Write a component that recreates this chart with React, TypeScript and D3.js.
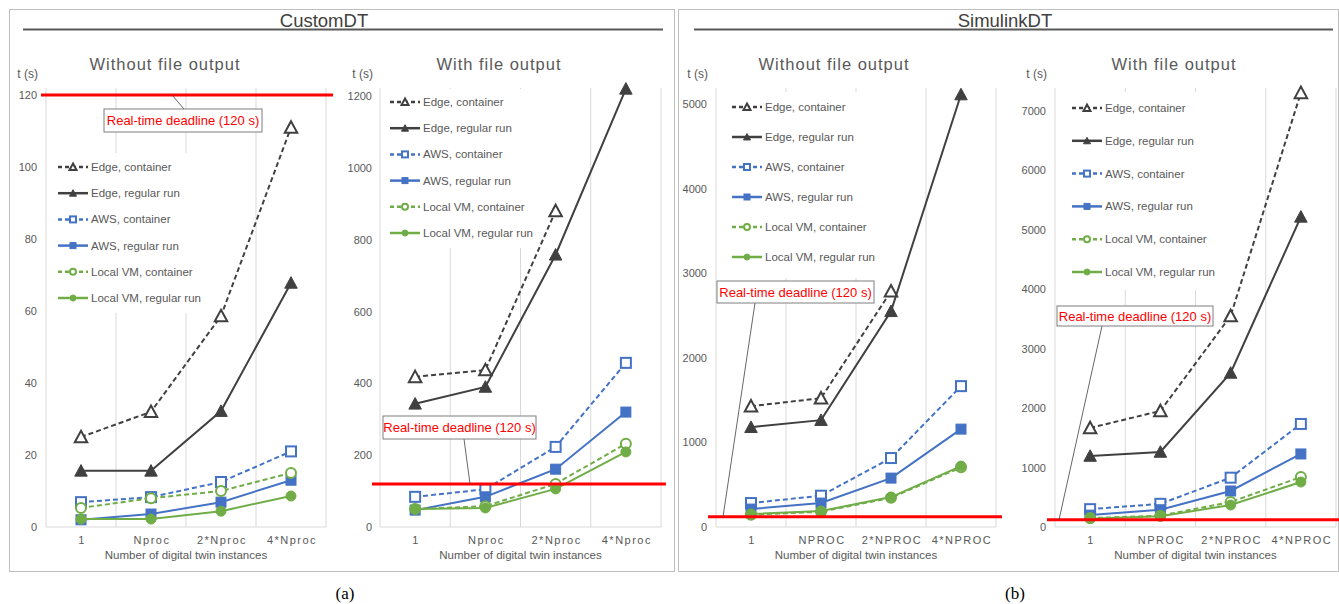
import React from "react";
import * as d3 from "d3";

// ---------- DATA ----------
const categoriesCustom = ["1", "Nproc", "2*Nproc", "4*Nproc"];
const categoriesSimulink = ["1", "NPROC", "2*NPROC", "4*NPROC"];

const seriesNames = [
  "Edge, container",
  "Edge, regular run",
  "AWS, container",
  "AWS, regular run",
  "Local VM, container",
  "Local VM, regular run",
];

// CustomDT – without file output
const customNoFileEdgeContainer = [25, 32, 58.6, 111];
const customNoFileEdgeRegular = [15.6, 15.6, 32.2, 67.8];
const customNoFileAwsContainer = [6.9, 8.3, 12.5, 21];
const customNoFileAwsRegular = [2, 3.6, 6.9, 13];
const customNoFileVmContainer = [5.3, 8, 10, 15];
const customNoFileVmRegular = [2.2, 2.2, 4.4, 8.6];

// CustomDT – with file output
const customFileEdgeContainer = [418, 437, 880, null];
const customFileEdgeRegular = [343, 390, 758, 1220];
const customFileAwsContainer = [84, 105, 223, 457];
const customFileAwsRegular = [47, 84, 161, 320];
const customFileVmContainer = [50, 58, 120, 232];
const customFileVmRegular = [50, 53, 106, 209];

// SimulinkDT – without file output
const simNoFileEdgeContainer = [1428, 1523, 2786, null];
const simNoFileEdgeRegular = [1180, 1263, 2550, 5112];
const simNoFileAwsContainer = [283, 370, 815, 1665];
const simNoFileAwsRegular = [212, 283, 578, 1157];
const simNoFileVmContainer = [145, 180, 345, 705];
const simNoFileVmRegular = [153, 189, 354, 720];

// SimulinkDT – with file output
const simFileEdgeContainer = [1667, 1953, 3552, 7306];
const simFileEdgeRegular = [1195, 1263, 2593, 5219];
const simFileAwsContainer = [300, 390, 830, 1734];
const simFileAwsRegular = [200, 290, 606, 1229];
const simFileVmContainer = [150, 190, 420, 840];
const simFileVmRegular = [140, 180, 370, 757];

const ticksCustomNoFile = [0, 20, 40, 60, 80, 100, 120];
const ticksCustomFile = [0, 200, 400, 600, 800, 1000, 1200];
const ticksSimNoFile = [0, 1000, 2000, 3000, 4000, 5000];
const ticksSimFile = [0, 1000, 2000, 3000, 4000, 5000, 6000, 7000];

const deadline = 120;

// ---------- STYLES ----------
const seriesStyle = [
  { color: "#404040", dashed: true, marker: "triangle", open: true },
  { color: "#404040", dashed: false, marker: "triangle", open: false },
  { color: "#4472C4", dashed: true, marker: "square", open: true },
  { color: "#4472C4", dashed: false, marker: "square", open: false },
  { color: "#70AD47", dashed: true, marker: "circle", open: true },
  { color: "#70AD47", dashed: false, marker: "circle", open: false },
];

const FONT = "'Liberation Sans', Arial, sans-serif";
const TEXT = "#595959";
const GRID = "#d9d9d9";
const BASE = 527;

const panels = [
  {
    title: "Without file output",
    titleX: 165,
    cats: categoriesCustom,
    series: [customNoFileEdgeContainer, customNoFileEdgeRegular, customNoFileAwsContainer, customNoFileAwsRegular, customNoFileVmContainer, customNoFileVmRegular],
    ticks: ticksCustomNoFile,
    left: 46, right: 326, yTop: 95, labelX: 37,
    legend: { x0: 47, x1: 250, y0: 153, y1: 313, row0: 167, step: 26.2, lx: 58 },
    red: { x0: 41, x1: 333 },
    box: { x0: 104, x1: 262, y0: 109, y1: 132, ax: 172, bx: 184, by: 109 },
  },
  {
    title: "With file output",
    titleX: 499,
    cats: categoriesCustom,
    series: [customFileEdgeContainer, customFileEdgeRegular, customFileAwsContainer, customFileAwsRegular, customFileVmContainer, customFileVmRegular],
    ticks: ticksCustomFile,
    left: 380, right: 661, yTop: 96, labelX: 372,
    legend: { x0: 381, x1: 586, y0: 89, y1: 248, row0: 102, step: 26.2, lx: 390 },
    red: { x0: 372, x1: 666 },
    box: { x0: 383, x1: 536, y0: 416, y1: 439, ax: 470, bx: 464, by: 439 },
  },
  {
    title: "Without file output",
    titleX: 834,
    cats: categoriesSimulink,
    series: [simNoFileEdgeContainer, simNoFileEdgeRegular, simNoFileAwsContainer, simNoFileAwsRegular, simNoFileVmContainer, simNoFileVmRegular],
    ticks: ticksSimNoFile,
    left: 716, right: 996, yTop: 104, labelX: 707,
    legend: { x0: 717, x1: 900, y0: 92, y1: 278, row0: 107, step: 30, lx: 732 },
    red: { x0: 708, x1: 1002 },
    box: { x0: 717, x1: 874, y0: 281, y1: 303, ax: 723, bx: 755, by: 303 },
  },
  {
    title: "With file output",
    titleX: 1174,
    cats: categoriesSimulink,
    series: [simFileEdgeContainer, simFileEdgeRegular, simFileAwsContainer, simFileAwsRegular, simFileVmContainer, simFileVmRegular],
    ticks: ticksSimFile,
    left: 1055, right: 1336, yTop: 111, labelX: 1046,
    legend: { x0: 1056, x1: 1240, y0: 92, y1: 290, row0: 108, step: 32.8, lx: 1072 },
    red: { x0: 1047, x1: 1339 },
    box: { x0: 1057, x1: 1213, y0: 306, y1: 326, ax: 1059, bx: 1102, by: 326 },
  },
];

function Marker({ x, y, kind, color, open, size }) {
  const fill = open ? "#ffffff" : color;
  const sw = open ? 2 : 1;
  if (kind === "triangle") {
    const h = size / 2;
    return (
      <path
        d={`M${x},${y - h}L${x + h},${y + h * 0.85}L${x - h},${y + h * 0.85}Z`}
        fill={fill}
        stroke={color}
        strokeWidth={sw}
        strokeLinejoin="miter"
      />
    );
  }
  if (kind === "square") {
    const h = size / 2 - 0.5;
    return <rect x={x - h} y={y - h} width={2 * h} height={2 * h} fill={fill} stroke={color} strokeWidth={sw} />;
  }
  return <circle cx={x} cy={y} r={size / 2 - 0.5} fill={fill} stroke={color} strokeWidth={sw} />;
}

function Panel({ p }) {
  const x = d3.scaleBand().domain(p.cats).range([p.left, p.right]).padding(0);
  const y = d3
    .scaleLinear()
    .domain([0, p.ticks[p.ticks.length - 1]])
    .range([BASE, p.yTop]);
  const cx = (c) => (x(c) as number) + x.bandwidth() / 2;
  const gridXs = [...p.cats.map((c) => x(c) as number), p.right];
  const line = d3
    .line<any>()
    .defined((d) => d.v !== null)
    .x((d) => cx(d.c))
    .y((d) => y(d.v));
  const redY = y(deadline);
  const L = p.legend;
  return (
    <g>
      {gridXs.map((gx, i) => (
        <line key={i} x1={gx} x2={gx} y1={88} y2={BASE} stroke={GRID} strokeWidth={1} />
      ))}
      <line x1={p.left} x2={p.right} y1={BASE} y2={BASE} stroke={GRID} strokeWidth={1} />
      <rect x={L.x0} y={L.y0} width={L.x1 - L.x0} height={L.y1 - L.y0} fill="#ffffff" />
      {p.ticks.map((t) => (
        <text key={t} x={p.labelX} y={y(t) + 4} textAnchor="end" fontSize={11} fill={TEXT} fontFamily={FONT}>
          {t}
        </text>
      ))}
      <text x={p.labelX + 1} y={78} textAnchor="end" fontSize={12} fill={TEXT} fontFamily={FONT}>
        t (s)
      </text>
      <text x={p.titleX} y={70} textAnchor="middle" fontSize={16.5} letterSpacing={1} fill={TEXT} fontFamily={FONT}>
        {p.title}
      </text>
      {p.cats.map((c) => (
        <text key={c} x={cx(c) + 1} y={544} textAnchor="middle" fontSize={11} letterSpacing={1.5} fill={TEXT} fontFamily={FONT}>
          {c}
        </text>
      ))}
      <text x={(p.left + p.right) / 2} y={559} textAnchor="middle" fontSize={11.5} fill={TEXT} fontFamily={FONT}>
        Number of digital twin instances
      </text>
      {seriesNames.map((name, i) => {
        const st = seriesStyle[i];
        const ry = L.row0 + i * L.step;
        return (
          <g key={name}>
            <line
              x1={L.lx}
              x2={L.lx + 30}
              y1={ry}
              y2={ry}
              stroke={st.color}
              strokeWidth={2.5}
              strokeDasharray={st.dashed ? "4,3" : undefined}
            />
            <Marker x={L.lx + 15} y={ry} kind={st.marker} color={st.color} open={st.open} size={7} />
            <text x={L.lx + 33} y={ry + 4} fontSize={11.5} fill={TEXT} fontFamily={FONT}>
              {name}
            </text>
          </g>
        );
      })}
      {p.series.map((vals, i) => {
        const st = seriesStyle[i];
        const pts = vals.map((v, j) => ({ c: p.cats[j], v }));
        return (
          <g key={i}>
            <path
              d={line(pts) || ""}
              fill="none"
              stroke={st.color}
              strokeWidth={2}
              strokeDasharray={st.dashed ? "5,3" : undefined}
            />
            {pts
              .filter((d) => d.v !== null)
              .map((d, j) => (
                <Marker key={j} x={cx(d.c)} y={y(d.v)} kind={st.marker} color={st.color} open={st.open} size={st.marker === "triangle" ? 12.5 : 11} />
              ))}
          </g>
        );
      })}
      <line x1={p.red.x0} x2={p.red.x1} y1={redY} y2={redY} stroke="#ff0000" strokeWidth={3} />
      <line x1={p.box.ax} y1={redY} x2={p.box.bx} y2={p.box.by} stroke="#404040" strokeWidth={0.8} />
      <rect
        x={p.box.x0}
        y={p.box.y0}
        width={p.box.x1 - p.box.x0}
        height={p.box.y1 - p.box.y0}
        fill="#ffffff"
        stroke="#7f7f7f"
        strokeWidth={1}
      />
      <text
        x={(p.box.x0 + p.box.x1) / 2}
        y={(p.box.y0 + p.box.y1) / 2 + 4.5}
        textAnchor="middle"
        fontSize={13}
        fill="#ff0000"
        fontFamily={FONT}
      >
        Real-time deadline (120 s)
      </text>
    </g>
  );
}

export default function App() {
  return (
    <svg
      width={1339}
      height={604}
      style={{ position: "absolute", left: 0, top: 0, background: "#ffffff" }}
    >
      <rect x={0} y={0} width={1339} height={604} fill="#ffffff" />
      <rect x={9.5} y={9.5} width={665} height={562} fill="none" stroke="#bfbfbf" strokeWidth={1} />
      <rect x={678.5} y={9.5} width={660} height={562} fill="none" stroke="#bfbfbf" strokeWidth={1} />
      <text x={324} y={27} textAnchor="middle" fontSize={18.5} fill="#404040" fontFamily={FONT}>
        CustomDT
      </text>
      <line x1={23} x2={663} y1={29.5} y2={29.5} stroke="#595959" strokeWidth={2} />
      <text x={1005} y={27} textAnchor="middle" fontSize={18.5} fill="#404040" fontFamily={FONT}>
        SimulinkDT
      </text>
      <line x1={694} x2={1333} y1={29.5} y2={29.5} stroke="#595959" strokeWidth={2} />
      {panels.map((p, i) => (
        <Panel key={i} p={p} />
      ))}
      <text x={345} y={599} textAnchor="middle" fontSize={17} fill="#000" fontFamily="'Liberation Serif', serif">
        (a)
      </text>
      <text x={1015} y={599} textAnchor="middle" fontSize={17} fill="#000" fontFamily="'Liberation Serif', serif">
        (b)
      </text>
    </svg>
  );
}
